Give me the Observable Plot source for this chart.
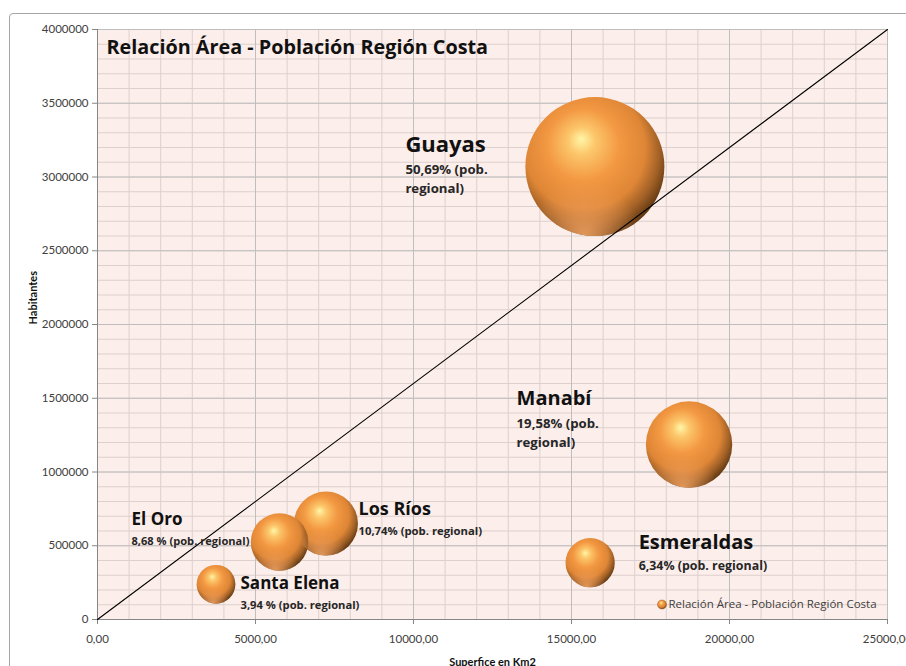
<!DOCTYPE html>
<html><head><meta charset="utf-8">
<script src="https://cdn.jsdelivr.net/npm/d3@7"></script>
<script src="https://cdn.jsdelivr.net/npm/@observablehq/plot@0.6"></script>
<style>
html,body{margin:0;padding:0;background:#fff;overflow:hidden;}
#wrap{position:relative;width:906px;height:666px;overflow:hidden;}
#border{position:absolute;left:9px;top:13px;width:1000px;height:1000px;border:1.5px solid #A6A6A6;border-radius:4px;}
#wrap svg{position:absolute;left:0;top:0;}
</style></head><body><div id="wrap"><div id="border"></div></div>
<script>
// ---- data ----
const provinces = ["Guayas", "Manabí", "Esmeraldas", "Los Ríos", "El Oro", "Santa Elena"];
const areaKm2 = [15740, 18720, 15590, 7230, 5760, 3750];
const population = [3070460, 1186025, 385223, 650178, 525763, 238889];
const shareLabels = ["50,69% (pob.\nregional)", "19,58% (pob.\nregional)", "6,34% (pob. regional)",
                     "10,74% (pob. regional)", "8,68 % (pob. regional)", "3,94 % (pob. regional)"];
const xTicks = [0, 5000, 10000, 15000, 20000, 25000];
const yTicks = [0, 500000, 1000000, 1500000, 2000000, 2500000, 3000000, 3500000, 4000000];
const xMinor = d3.range(0, 25001, 1000);
const yMinor = d3.range(0, 4000001, 100000);
const diagonal = [{x: 0, y: 0}, {x: 25000, y: 4000000}];
const chartTitle = "Relación Área - Población Región Costa";
const seriesName = "Relación Área - Población Región Costa";
const xTitle = "Superfice en Km2";
const yTitle = "Habitantes";

const rows = provinces.map((p, i) => ({name: p, area: areaKm2[i], pop: population[i], share: shareLabels[i]}));

// ---- label layout (pixel offsets from bubble centre; style only) ----
const layout = {
  "Guayas":      {dx: -189.5, nameDy: -14.5, shareDy: 26.5, size: 22, shareSize: 13.2},
  "Manabí":      {dx: -172.5, nameDy: -39.5, shareDy: 2.5,  size: 20, shareSize: 13.2},
  "Esmeraldas":  {dx: 48.5,   nameDy: -13.5, shareDy: 7.5,  size: 20, shareSize: 12.4},
  "Los Ríos":    {dx: 32.5,   nameDy: -8.5,  shareDy: 11.5, size: 18, shareSize: 11.3},
  "El Oro":      {dx: -148,   nameDy: -17,   shareDy: 3,    size: 17, shareSize: 11.1},
  "Santa Elena": {dx: 24.5,   nameDy: 5,     shareDy: 25,   size: 17, shareSize: 11.2}
};

const font = "Lato, 'Open Sans', sans-serif";
const labelFont = "'Open Sans', Lato, sans-serif";
const labelMarks = rows.flatMap(d => {
  const L = layout[d.name];
  return [
    Plot.text([d], {x: "area", y: "pop", text: "name", dx: L.dx, dy: L.nameDy, textAnchor: "start",
      lineAnchor: "bottom", fontSize: L.size, fontWeight: "bold", fontFamily: labelFont, fill: "#111"}),
    Plot.text([d], {x: "area", y: "pop", text: "share", dx: L.dx, dy: L.shareDy, textAnchor: "start",
      lineAnchor: "bottom", lineHeight: 1.45, fontSize: L.shareSize, fontWeight: "bold", fontFamily: labelFont, fill: "#262626"})
  ];
});

const svg = Plot.plot({
  width: 906, height: 666,
  marginLeft: 97, marginRight: 19, marginTop: 29, marginBottom: 47,
  style: {fontFamily: font, background: "transparent", overflow: "visible"},
  x: {domain: [0, 25000], label: null},
  y: {domain: [0, 4000000], label: null},
  r: {domain: [0, 3070460], range: [0, 69.5]},
  marks: [
    Plot.frame({fill: "#FCEEEA", stroke: null}),
    Plot.gridX(xMinor, {stroke: "#DDD0CD", strokeOpacity: 1}),
    Plot.gridY(yMinor, {stroke: "#DDD0CD", strokeOpacity: 1}),
    Plot.gridX(xTicks, {stroke: "#BEBEBE", strokeOpacity: 1}),
    Plot.gridY(yTicks, {stroke: "#BEBEBE", strokeOpacity: 1}),
    Plot.ruleX([0], {stroke: "#868686"}),
    Plot.ruleY([0], {stroke: "#868686"}),
    Plot.axisY({ticks: yTicks, tickFormat: d => String(d), tickSize: 5, tickPadding: 4,
      fontSize: 11.5, stroke: "#868686", fill: "#404040", label: null}),
    Plot.axisX({ticks: xTicks, tickFormat: d => d3.format(".2f")(d).replace(".", ","), tickSize: 5, tickPadding: 10,
      fontSize: 11.5, stroke: "#868686", fill: "#404040", label: null}),
    Plot.dot(rows, {x: "area", y: "pop", r: "pop", fill: "url(#ball)", stroke: null}),
    Plot.dot(rows, {x: "area", y: "pop", r: "pop", fill: "url(#rim)", stroke: null}),
    Plot.line(diagonal, {x: "x", y: "y", stroke: "#000", strokeWidth: 1.1}),
    ...labelMarks,
    Plot.text([chartTitle], {frameAnchor: "top-left", dx: 9, dy: 24, lineAnchor: "bottom",
      textAnchor: "start", fontSize: 19.8, fontWeight: "bold", fontFamily: labelFont, fill: "#111"}),
    Plot.text([yTitle], {frameAnchor: "left", dx: -64, rotate: -90, fontSize: 11, fontWeight: "bold", fill: "#111"}),
    Plot.text([xTitle], {frameAnchor: "bottom", dy: 46, lineAnchor: "bottom", fontSize: 11, fontWeight: "bold", fill: "#111"}),
    Plot.dot([seriesName], {frameAnchor: "bottom-left", dx: 564.5, dy: -15, r: 4.5, fill: "url(#ball)", stroke: "#A0602A", strokeWidth: 0.5}),
    Plot.text([seriesName], {frameAnchor: "bottom-left", dx: 571, dy: -11.5, lineAnchor: "bottom",
      textAnchor: "start", fontSize: 11.5, fontFamily: labelFont, fill: "#404040"})
  ]
});

svg.insertAdjacentHTML("afterbegin", `<defs>
  <radialGradient id="ball" cx="0.44" cy="0.40" r="0.62" fx="0.40" fy="0.30">
    <stop offset="0" stop-color="#FFF6A8"/>
    <stop offset="0.16" stop-color="#FCC66A"/>
    <stop offset="0.42" stop-color="#F39842"/>
    <stop offset="0.70" stop-color="#DE8636"/>
    <stop offset="0.86" stop-color="#A06026"/>
    <stop offset="1" stop-color="#5A3410"/>
  </radialGradient>
  <radialGradient id="rim" cx="0.42" cy="1.02" r="0.42">
    <stop offset="0" stop-color="#F7A865" stop-opacity="0.9"/>
    <stop offset="0.6" stop-color="#F0A060" stop-opacity="0.35"/>
    <stop offset="1" stop-color="#F0A060" stop-opacity="0"/>
  </radialGradient>
</defs>`);
document.getElementById("wrap").appendChild(svg);
</script>
</body></html>
